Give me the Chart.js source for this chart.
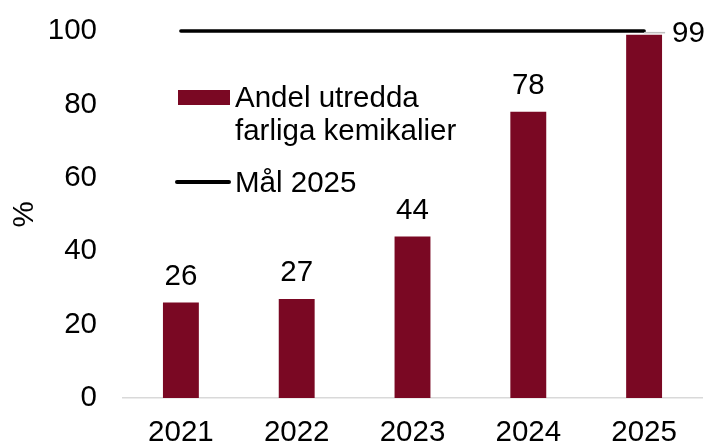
<!DOCTYPE html>
<html>
<head>
<meta charset="utf-8">
<script src="https://cdn.jsdelivr.net/npm/chart.js@4"></script>
<style>
  html, body { margin: 0; padding: 0; background: #fff; }
  #wrap { width: 708px; height: 444px; position: relative; }
</style>
</head>
<body>
<div id="wrap"><canvas id="chart"></canvas></div>
<script>
const years = ["2021", "2022", "2023", "2024", "2025"];
const shareValues = [26, 27, 44, 78, 99];
const targetValues = [100, 100, 100, 100, 100];
const yTicks = [0, 20, 40, 60, 80, 100];

const FONT = "'Liberation Sans', Arial, sans-serif";
const BAR_COLOR = "#7a0823";
const SIZE = 29.5;

Chart.defaults.font.family = FONT;
Chart.defaults.color = "#000";

// legend drawn inside the plot, like the original
const innerLegend = {
  id: "innerLegend",
  afterDraw(chart) {
    const ctx = chart.ctx;
    ctx.save();
    ctx.font = SIZE + "px " + FONT;
    ctx.textBaseline = "alphabetic";
    ctx.textAlign = "left";

    ctx.fillStyle = BAR_COLOR;
    ctx.fillRect(178, 90, 52, 15);
    ctx.fillStyle = "#000";
    ctx.fillText("Andel utredda", 235, 107);
    ctx.fillText("farliga kemikalier", 235, 140);

    ctx.strokeStyle = "#000";
    ctx.lineWidth = 4;
    ctx.lineCap = "round";
    ctx.beginPath();
    ctx.moveTo(177, 182);
    ctx.lineTo(229, 182);
    ctx.stroke();
    ctx.fillText("Mål 2025", 235, 192);
    ctx.restore();
  }
};

const valueLabels = {
  id: "valueLabels",
  afterDatasetsDraw(chart) {
    const ctx = chart.ctx;
    const meta = chart.getDatasetMeta(0);
    ctx.save();
    ctx.font = SIZE + "px " + FONT;
    ctx.fillStyle = "#000";
    meta.data.forEach((bar, i) => {
      const v = shareValues[i];
      if (i === meta.data.length - 1) {
        // last label sits right of the bar with a short leader
        ctx.strokeStyle = "#bfbfbf";
        ctx.lineWidth = 1.5;
        ctx.beginPath();
        ctx.moveTo(bar.x, bar.y - 2);
        ctx.lineTo(bar.x + 21, bar.y - 2);
        ctx.stroke();
        ctx.textAlign = "left";
        ctx.textBaseline = "middle";
        ctx.fillText(String(v), bar.x + 28, bar.y - 1);
      } else {
        ctx.textAlign = "center";
        ctx.textBaseline = "alphabetic";
        ctx.fillText(String(v), bar.x, bar.y - 18);
      }
    });
    ctx.restore();
  }
};

new Chart(document.getElementById("chart"), {
  data: {
    labels: years,
    datasets: [
      {
        type: "bar",
        label: "Andel utredda farliga kemikalier",
        data: shareValues,
        backgroundColor: BAR_COLOR,
        barPercentage: 0.31,
        categoryPercentage: 1,
        order: 2,
      },
      {
        type: "line",
        label: "Mål 2025",
        data: targetValues,
        borderColor: "#000",
        borderWidth: 3.5,
        borderCapStyle: "round",
        pointRadius: 0,
        fill: false,
        clip: false,
        order: 1,
      },
    ],
  },
  options: {
    responsive: true,
    maintainAspectRatio: false,
    animation: false,
    layout: { padding: { top: 31, right: 6, left: 0, bottom: 0 } },
    plugins: {
      legend: { display: false },
      tooltip: { enabled: false },
    },
    scales: {
      x: {
        grid: { display: false, drawTicks: false },
        border: { display: true, color: "#d9d9d9", width: 1.5 },
        ticks: { font: { size: SIZE }, color: "#000", padding: 17, maxRotation: 0 },
        afterFit(scale) { scale.height = 46; },
      },
      y: {
        min: 0,
        max: 100,
        afterBuildTicks(scale) { scale.ticks = yTicks.map((v) => ({ value: v })); },
        grid: { display: false, drawTicks: false },
        border: { display: false },
        ticks: { font: { size: SIZE }, color: "#000", padding: 26 },
        title: {
          display: true,
          text: "%",
          font: { size: SIZE },
          color: "#000",
          padding: { top: 7, bottom: 0 },
        },
        afterFit(scale) {
          scale.width = 123;
          // keep the tick padding from pushing the plot down
          scale.paddingTop = 16;
          scale.paddingBottom = 16;
        },
      },
    },
  },
  plugins: [innerLegend, valueLabels],
});
</script>
</body>
</html>
